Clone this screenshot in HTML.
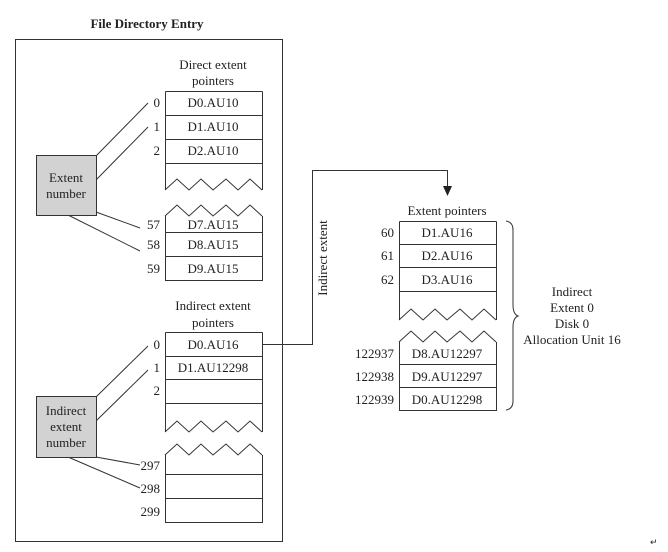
<!DOCTYPE html>
<html><head><style>body{margin:0;background:#fff}svg{display:block}</style></head><body>
<svg width="668" height="552" viewBox="0 0 668 552" xmlns="http://www.w3.org/2000/svg" font-family="Liberation Serif, serif" font-size="13" fill="#222">
<g stroke="#333" stroke-width="1" fill="none">
<rect x="15.5" y="39.5" width="267" height="502"/>
<path d="M165.5 91.5H262.5M165.5 115.5H262.5M165.5 139.5H262.5M165.5 163.5H262.5M165.5 91.5V190M262.5 91.5V190"/>
<polyline points="165,190 177,179 189,190 201,179 213,190 226,179 238,190 250,179 262,190"/>
<polyline points="165,216 177,205 189,216 201,205 213,216 226,205 238,216 250,205 262,216"/>
<path d="M165.5 216V280.5H262.5V216M165.5 232.5H262.5M165.5 256.5H262.5"/>
<path d="M165.5 332.5H262.5M165.5 356.5H262.5M165.5 379.5H262.5M165.5 403.5H262.5M165.5 332.5V432M262.5 332.5V432"/>
<polyline points="165,432 177,421 189,432 201,421 213,432 226,421 238,432 250,421 262,432"/>
<polyline points="165,455 177,444 189,455 201,444 213,455 226,444 238,455 250,444 262,455"/>
<path d="M165.5 455V522.5H262.5V455M165.5 474.5H262.5M165.5 498.5H262.5"/>
<path d="M96 156L148 103M96 180L148 127M96 212L140 228M68 215L140 251"/>
<path d="M96 397L148 346M96 421L148 370M96 457L140 465M68 457L140 488"/>
<path d="M262.5 344.5H312.5V170.5H447.5V188"/>
<path d="M399.5 221.5H496.5M399.5 244.5H496.5M399.5 267.5H496.5M399.5 291.5H496.5M399.5 221.5V320M496.5 221.5V320"/>
<polyline points="399,320 411,309 423,320 435,309 447,320 460,309 472,320 484,309 496,320"/>
<polyline points="399,342 411,331 423,342 435,331 447,342 460,331 472,342 484,331 496,342"/>
<path d="M399.5 342V410.5H496.5V342M399.5 364.5H496.5M399.5 387.5H496.5"/>
<path d="M506 221Q513 222 513 230V305Q513 314 518 316Q513 318 513 327V401Q513 409 506 410"/>
</g>
<polygon points="443,186 452,186 447.5,196" fill="#222"/>
<rect x="36.5" y="155.5" width="60" height="60" fill="#d2d2d2" stroke="#333"/>
<rect x="36.5" y="396.5" width="60" height="61" fill="#d2d2d2" stroke="#333"/>
<text x="147" y="28" text-anchor="middle" font-weight="bold">File Directory Entry</text>
<g text-anchor="middle">
<text x="213" y="69">Direct extent</text><text x="213" y="85">pointers</text>
<text x="213" y="107">D0.AU10</text><text x="213" y="131">D1.AU10</text><text x="213" y="155">D2.AU10</text>
<text x="213" y="229">D7.AU15</text><text x="213" y="249">D8.AU15</text><text x="213" y="273">D9.AU15</text>
<text x="66" y="182">Extent</text><text x="66" y="198">number</text>
<text x="213" y="310">Indirect extent</text><text x="213" y="327">pointers</text>
<text x="213" y="349">D0.AU16</text><text x="213" y="372">D1.AU12298</text>
<text x="66" y="415">Indirect</text><text x="66" y="431">extent</text><text x="66" y="447">number</text>
<text x="447" y="215">Extent pointers</text>
<text x="447" y="237">D1.AU16</text><text x="447" y="260">D2.AU16</text><text x="447" y="284">D3.AU16</text>
<text x="447" y="358">D8.AU12297</text><text x="447" y="381">D9.AU12297</text><text x="447" y="404">D0.AU12298</text>
<text x="572" y="296">Indirect</text><text x="572" y="312">Extent 0</text><text x="572" y="328">Disk 0</text><text x="572" y="344">Allocation Unit 16</text>
</g>
<g text-anchor="end">
<text x="160" y="107">0</text><text x="160" y="131">1</text><text x="160" y="155">2</text>
<text x="160" y="229">57</text><text x="160" y="249">58</text><text x="160" y="273">59</text>
<text x="160" y="349">0</text><text x="160" y="372">1</text><text x="160" y="395">2</text>
<text x="160" y="470">297</text><text x="160" y="493">298</text><text x="160" y="516">299</text>
<text x="394" y="237">60</text><text x="394" y="260">61</text><text x="394" y="284">62</text>
<text x="394" y="358">122937</text><text x="394" y="381">122938</text><text x="394" y="404">122939</text>
</g>
<text transform="translate(327,258) rotate(-90)" text-anchor="middle">Indirect extent</text>
<text x="650" y="545" font-size="9">↵</text>
</svg>
</body></html>
